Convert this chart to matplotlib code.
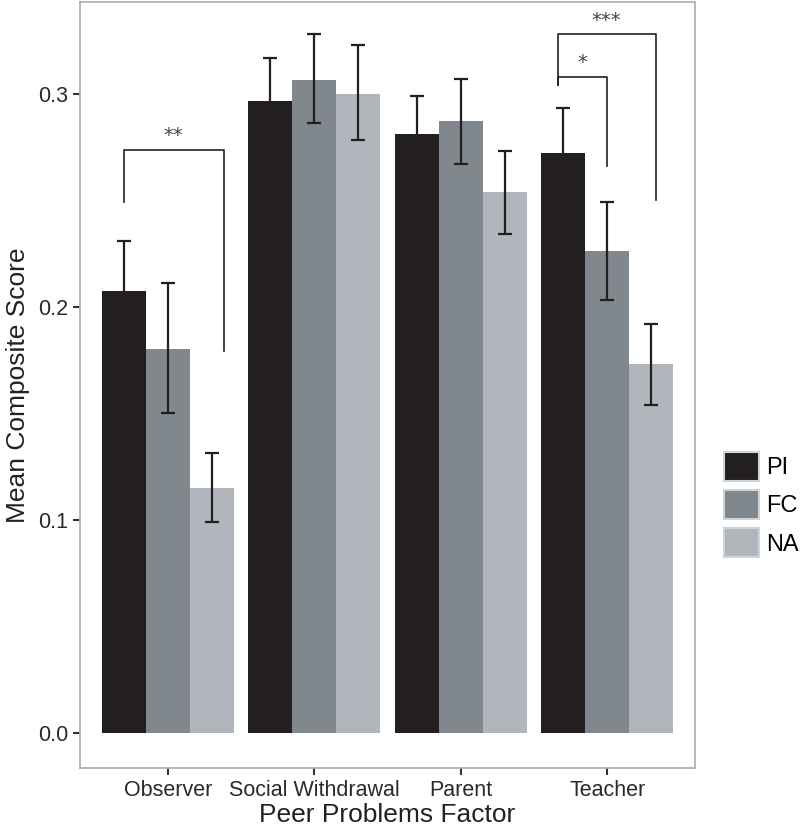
import numpy as np
import matplotlib
matplotlib.use("Agg")
import matplotlib.pyplot as plt
from matplotlib.patches import Patch

plt.rcParams['font.family'] = ['Liberation Sans Narrow', 'Liberation Sans', 'DejaVu Sans']

# data
factors = ["Observer", "Social Withdrawal", "Parent", "Teacher"]
groups = ["PI", "FC", "NA"]
means = {
    "PI": [0.2075, 0.2967, 0.2810, 0.2720],
    "FC": [0.1800, 0.3066, 0.2870, 0.2260],
    "NA": [0.1150, 0.3000, 0.2540, 0.1730],
}
err_lo = {
    "PI": [0.1840, 0.2770, 0.2630, 0.2510],
    "FC": [0.1500, 0.2860, 0.2670, 0.2030],
    "NA": [0.0990, 0.2780, 0.2340, 0.1540],
}
err_hi = {
    "PI": [0.2310, 0.3166, 0.2990, 0.2930],
    "FC": [0.2110, 0.3280, 0.3070, 0.2490],
    "NA": [0.1315, 0.3230, 0.2730, 0.1916],
}
colors = {"PI": "#231f20", "FC": "#80878d", "NA": "#b1b5bc"}

fig = plt.figure(figsize=(8, 8.3), dpi=100)
ax = fig.add_axes([0.1, 0.075, 0.769, 0.9226])

x = np.arange(1, len(factors) + 1)
w = 0.3
for i, g in enumerate(groups):
    pos = x + (i - 1) * w
    m = np.array(means[g])
    lo = m - np.array(err_lo[g])
    hi = np.array(err_hi[g]) - m
    ax.bar(pos, m, width=w, color=colors[g], edgecolor="none", zorder=2)
    ax.errorbar(pos, m, yerr=[lo, hi], fmt="none", ecolor="#231f20",
                elinewidth=1.6, capsize=5, capthick=1.6, zorder=3)

# significance brackets
def bracket(x0, x1, ytop, yl, yr, label):
    ax.plot([x0, x0, x1, x1], [yl, ytop, ytop, yr], color="#231f20", lw=1.2, zorder=4)
    ax.text((x0 + x1) / 2, ytop + 0.002, label, ha="center", va="bottom",
            fontsize=14, color="#444444", family=["DejaVu Sans"])

bracket(0.7, 1.38, 0.2737, 0.249, 0.179, "**")
bracket(3.66, 4.0, 0.308, 0.304, 0.266, "*")
bracket(3.66, 4.33, 0.328, 0.304, 0.250, "***")

ax.set_xlim(0.4, 4.6)
ax.set_ylim(-0.0165, 0.343)
ax.set_xticks(x)
ax.set_xticklabels(factors)
ax.set_yticks([0.0, 0.1, 0.2, 0.3])
ax.set_yticklabels(["0.0", "0.1", "0.2", "0.3"])
ax.tick_params(axis="both", labelsize=15.5, color="#333333", labelcolor="#2a2a2a",
               length=5, width=1.5)
ax.set_xlabel("Peer Problems Factor", fontsize=19, color="#222222", labelpad=2)
ax.set_ylabel("Mean Composite Score", fontsize=19, color="#222222", labelpad=6)
for s in ax.spines.values():
    s.set_color("#a7adb8")
    s.set_linewidth(1.2)

handles = [Patch(facecolor=colors[g], edgecolor="#d0d3d8", linewidth=1.5, label=g) for g in groups]
fig.legend(handles=handles, loc="center left", bbox_to_anchor=(0.878, 0.392),
           frameon=False, fontsize=17, handlelength=1.5, handleheight=1.5,
           handletextpad=0.3, labelspacing=0.4)

fig.savefig("out.png", dpi=100)
